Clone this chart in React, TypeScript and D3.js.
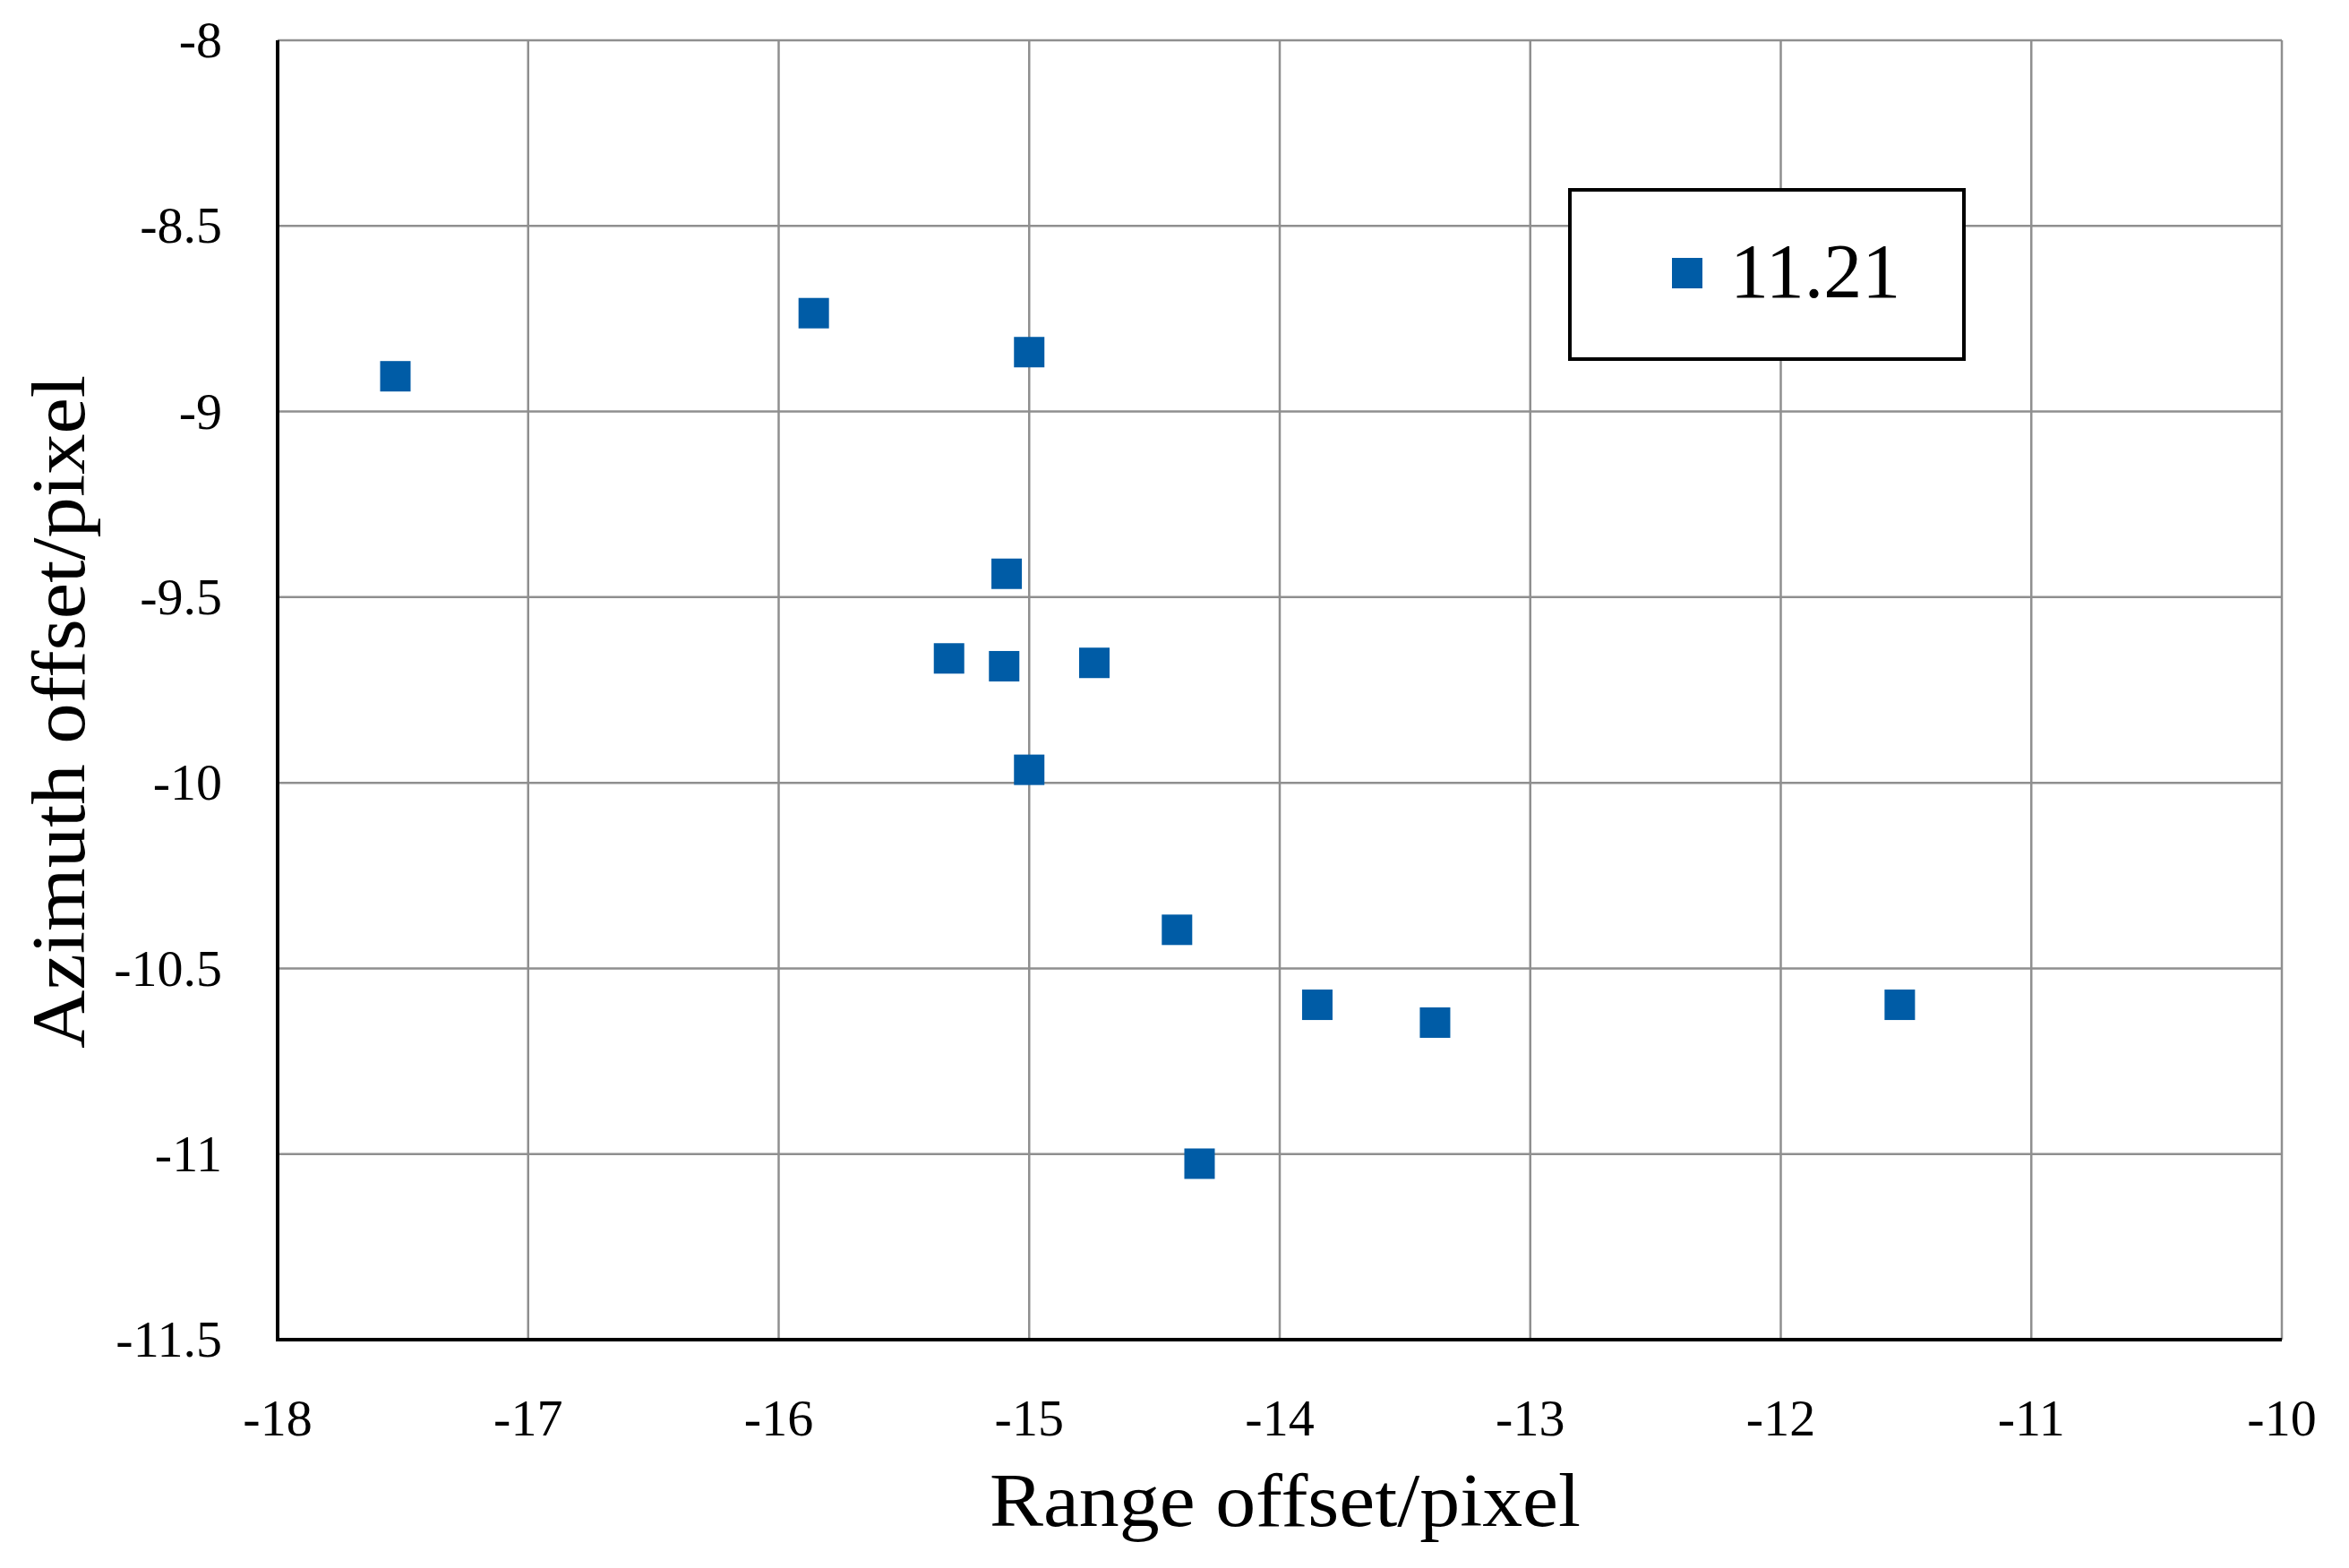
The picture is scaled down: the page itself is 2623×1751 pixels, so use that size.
// App.tsx
import React, { useRef, useEffect } from 'react';
import * as d3 from 'd3';

// range offset (x) and azimuth offset (y), pixels
const rangeOffset = [-17.53, -15.86, -15.0, -15.09, -15.32, -15.1, -14.74, -15.0, -14.41, -13.85, -13.38, -14.32, -11.525];
const azimuthOffset = [-8.905, -8.735, -8.84, -9.437, -9.665, -9.686, -9.677, -9.965, -10.396, -10.598, -10.646, -11.026, -10.598];

const xTicks = [-18, -17, -16, -15, -14, -13, -12, -11, -10];
const yTicks = [-8, -8.5, -9, -9.5, -10, -10.5, -11, -11.5];
const seriesName = '11.21';
const xTitle = 'Range offset/pixel';
const yTitle = 'Azimuth offset/pixel';

const W = 2623;
const H = 1751;
const margin = { left: 310, right: 75, top: 45, bottom: 255 };
const FONT = '"Liberation Serif", "Times New Roman", serif';
const BLUE = '#005ca6';

function App() {
  const ref = useRef<SVGSVGElement>(null);

  useEffect(() => {
    const svg = d3.select(ref.current);
    svg.selectAll('*').remove();

    const x = d3.scaleLinear().domain([-18, -10]).range([margin.left, W - margin.right]);
    const y = d3.scaleLinear().domain([-11.5, -8]).range([H - margin.bottom, margin.top]);

    svg.append('rect').attr('width', W).attr('height', H).attr('fill', '#fff');

    // grid
    const grid = svg.append('g').attr('stroke', '#8f8f8f').attr('stroke-width', 2.5);
    grid.selectAll('line.v')
      .data(xTicks)
      .enter()
      .append('line')
      .attr('x1', d => x(d)).attr('x2', d => x(d))
      .attr('y1', y(-8)).attr('y2', y(-11.5));
    grid.selectAll('line.h')
      .data(yTicks)
      .enter()
      .append('line')
      .attr('y1', d => y(d)).attr('y2', d => y(d))
      .attr('x1', x(-18)).attr('x2', x(-10));

    // axes lines
    svg.append('line')
      .attr('x1', x(-18)).attr('x2', x(-18))
      .attr('y1', y(-8)).attr('y2', y(-11.5))
      .attr('stroke', '#000').attr('stroke-width', 4);
    svg.append('line')
      .attr('x1', x(-18) - 2).attr('x2', x(-10))
      .attr('y1', y(-11.5)).attr('y2', y(-11.5))
      .attr('stroke', '#000').attr('stroke-width', 4);

    // tick labels
    svg.append('g')
      .selectAll('text')
      .data(xTicks)
      .enter()
      .append('text')
      .attr('x', d => x(d))
      .attr('y', y(-11.5) + 107)
      .attr('text-anchor', 'middle')
      .attr('font-family', FONT)
      .attr('font-size', 58)
      .text(d => String(d));

    svg.append('g')
      .selectAll('text')
      .data(yTicks)
      .enter()
      .append('text')
      .attr('x', x(-18) - 62)
      .attr('y', d => y(d))
      .attr('dy', '0.33em')
      .attr('text-anchor', 'end')
      .attr('font-family', FONT)
      .attr('font-size', 58)
      .text(d => String(d));

    // axis titles
    svg.append('text')
      .attr('x', (x(-18) + x(-10)) / 2 + 6)
      .attr('y', 1704)
      .attr('text-anchor', 'middle')
      .attr('font-family', FONT)
      .attr('font-size', 84)
      .attr('textLength', 660)
      .attr('lengthAdjust', 'spacingAndGlyphs')
      .text(xTitle);

    svg.append('text')
      .attr('transform', `translate(94, 795) rotate(-90)`)
      .attr('text-anchor', 'middle')
      .attr('font-family', FONT)
      .attr('font-size', 84)
      .attr('textLength', 752)
      .attr('lengthAdjust', 'spacingAndGlyphs')
      .text(yTitle);

    // points
    const size = 34;
    svg.append('g')
      .selectAll('rect')
      .data(rangeOffset.map((r, i) => ({ r, a: azimuthOffset[i] })))
      .enter()
      .append('rect')
      .attr('x', d => x(d.r) - size / 2)
      .attr('y', d => y(d.a) - size / 2)
      .attr('width', size)
      .attr('height', size)
      .attr('fill', BLUE);

    // legend
    const lg = svg.append('g');
    lg.append('rect')
      .attr('x', 1753).attr('y', 212)
      .attr('width', 440).attr('height', 189)
      .attr('fill', '#fff')
      .attr('stroke', '#000')
      .attr('stroke-width', 4);
    lg.append('rect')
      .attr('x', 1867).attr('y', 288)
      .attr('width', size).attr('height', size)
      .attr('fill', BLUE);
    lg.append('text')
      .attr('x', 1932).attr('y', 332)
      .attr('font-family', FONT)
      .attr('font-size', 86)
      .text(seriesName);

    return () => {
      svg.selectAll('*').remove();
    };
  }, []);

  return (
    <div style={{ position: 'absolute', left: 0, top: 0 }}>
      <svg ref={ref} width={W} height={H} style={{ display: 'block' }} />
    </div>
  );
}

export default App;
